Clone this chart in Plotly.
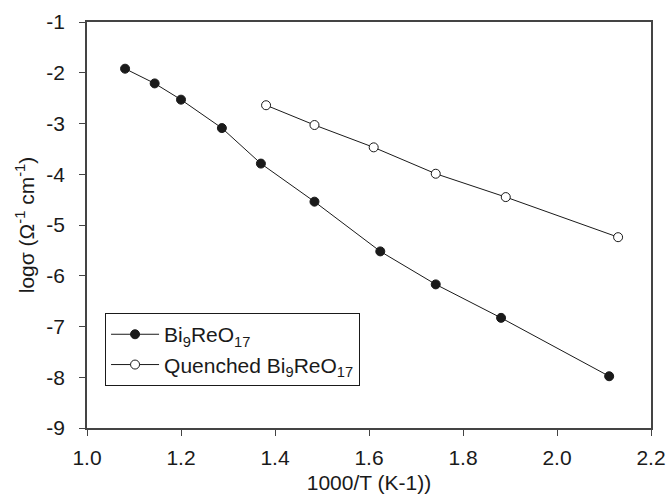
import plotly.graph_objects as go

# Data
x_bi = [1.081, 1.144, 1.200, 1.287, 1.370, 1.484, 1.624, 1.742, 1.881, 2.111]
y_bi = [-1.92, -2.21, -2.53, -3.09, -3.79, -4.54, -5.52, -6.17, -6.83, -7.98]

x_q = [1.381, 1.484, 1.610, 1.742, 1.891, 2.130]
y_q = [-2.64, -3.03, -3.47, -3.99, -4.45, -5.24]

x_ticks = [1.0, 1.2, 1.4, 1.6, 1.8, 2.0, 2.2]
x_tick_labels = ["1.0", "1.2", "1.4", "1.6", "1.8", "2.0", "2.2"]
y_ticks = [-1, -2, -3, -4, -5, -6, -7, -8, -9]
y_tick_labels = [str(v) for v in y_ticks]

name_bi = "Bi<sub>9</sub>ReO<sub>17</sub>"
name_q = "Quenched Bi<sub>9</sub>ReO<sub>17</sub>"

FONT = "Liberation Sans, Arial, sans-serif"
FS = 21
ink = "#1a1a1a"

fig = go.Figure()
fig.add_trace(go.Scatter(
    x=x_bi, y=y_bi, mode="lines+markers", name=name_bi,
    line=dict(color=ink, width=1),
    marker=dict(symbol="circle", size=9, color=ink, line=dict(color=ink, width=1)),
))
fig.add_trace(go.Scatter(
    x=x_q, y=y_q, mode="lines+markers", name=name_q,
    line=dict(color=ink, width=1),
    marker=dict(symbol="circle", size=9, color="white", line=dict(color=ink, width=1)),
))

axis_common = dict(
    showgrid=False, zeroline=False, showline=True, linecolor="#444", linewidth=1.5,
    mirror=True, ticks="outside", ticklen=6, tickwidth=1, tickcolor="#444",
    tickfont=dict(family=FONT, size=FS, color=ink), automargin=False,
)

fig.update_layout(
    width=667, height=494,
    margin=dict(l=87, r=16, t=22, b=66),
    paper_bgcolor="white", plot_bgcolor="white",
    font=dict(family=FONT, size=FS, color=ink),
    xaxis=dict(range=[1.0, 2.2], tickvals=x_ticks, ticktext=x_tick_labels,
               ticklabelstandoff=4,
               title=dict(text="1000/T (K-1))", font=dict(family=FONT, size=FS, color=ink), standoff=8),
               **axis_common),
    yaxis=dict(range=[-9, -1], tickvals=y_ticks, ticktext=y_tick_labels,
               ticklabelstandoff=10,
               title=dict(text="logσ (Ω<sup>-1</sup> cm<sup>-1</sup>)", font=dict(family=FONT, size=FS, color=ink), standoff=6),
               **axis_common),
    showlegend=True,
    legend=dict(x=0.032, y=0.283, xanchor="left", yanchor="top",
                bordercolor=ink, borderwidth=1, bgcolor="white",
                font=dict(family=FONT, size=FS, color=ink),
                tracegroupgap=0, itemwidth=48),
)

fig.write_html("out.html")
